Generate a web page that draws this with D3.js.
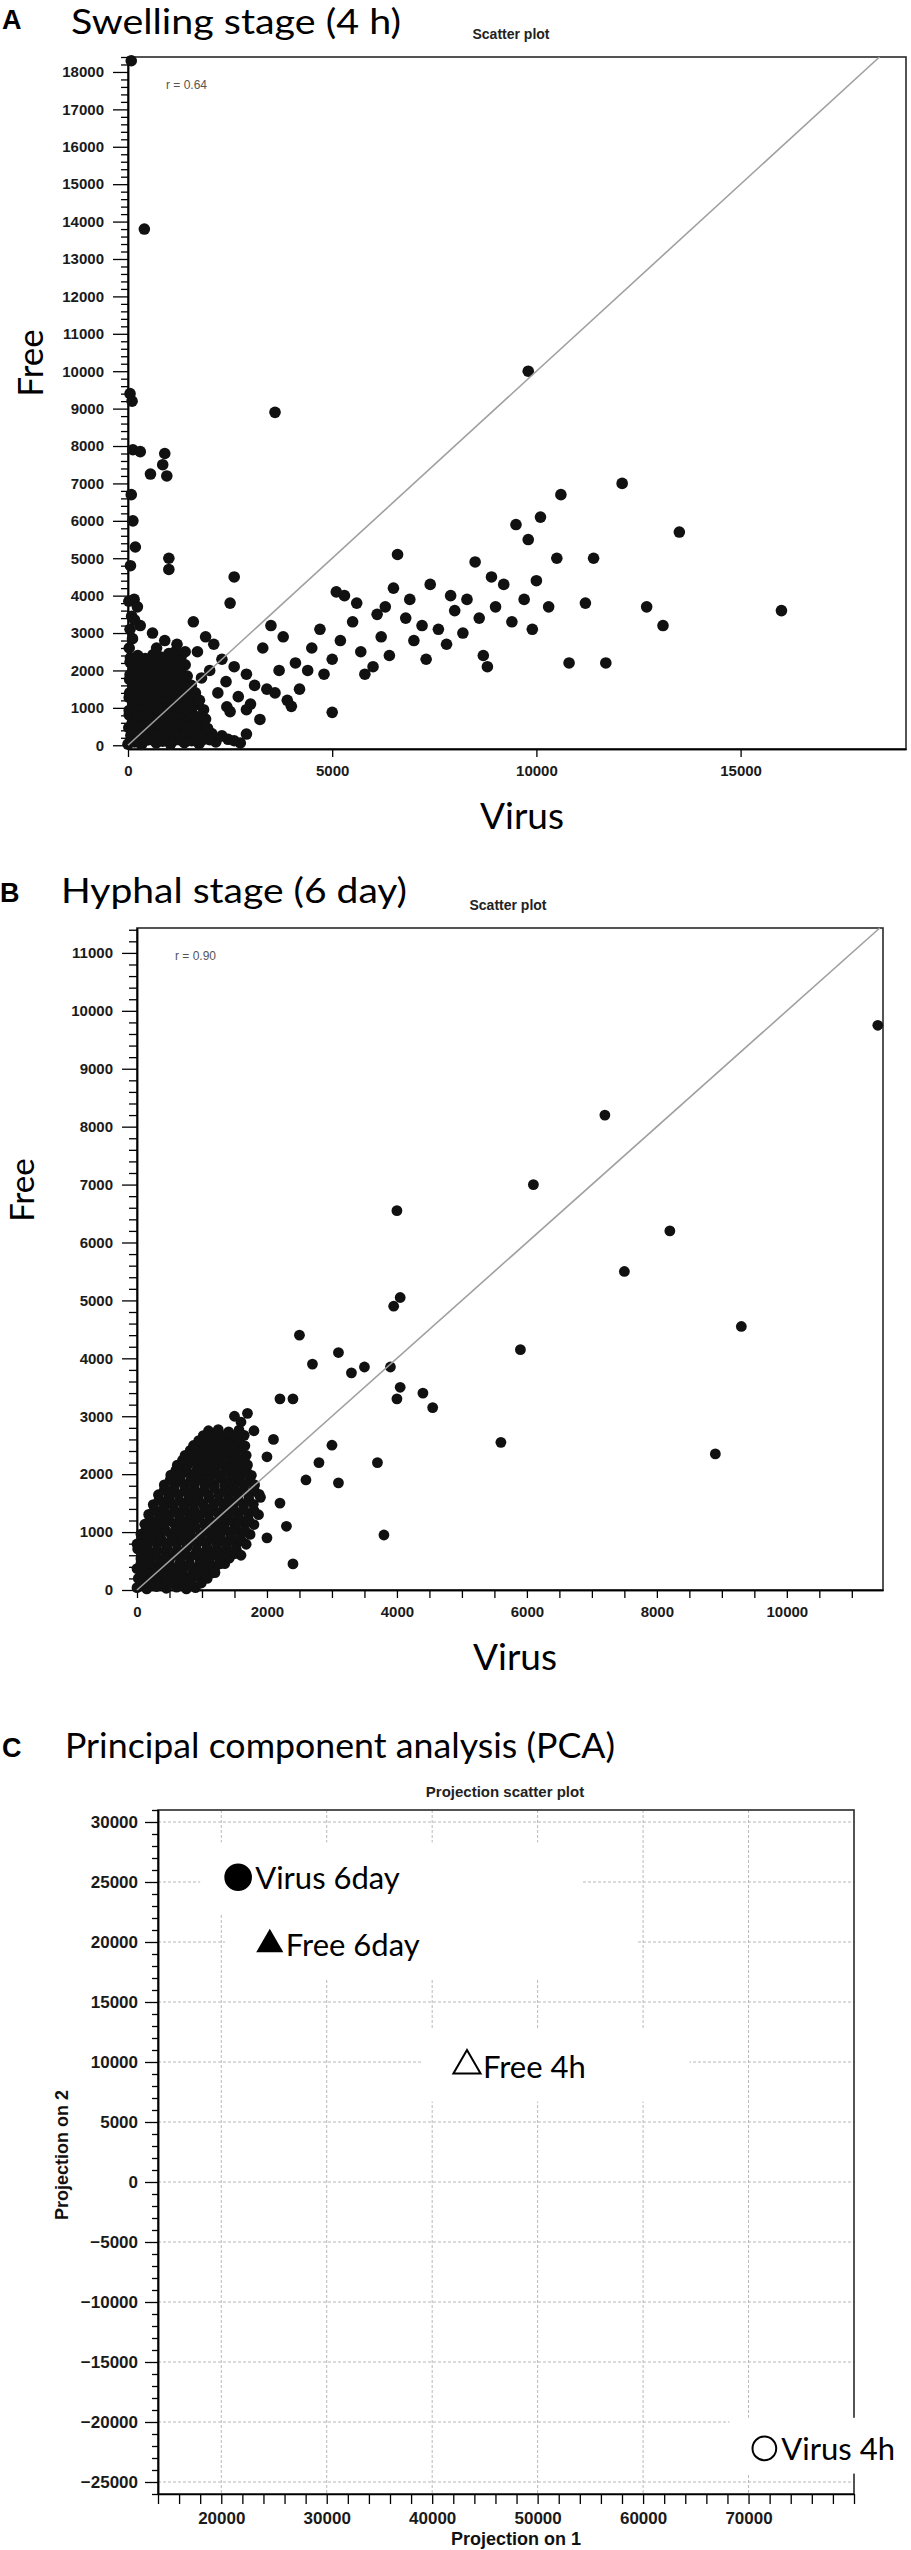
<!DOCTYPE html>
<html>
<head>
<meta charset="utf-8">
<script src="https://cdn.jsdelivr.net/npm/d3@7/dist/d3.min.js"></script>
<style>
  body { margin: 0; background: #fff; }
  svg text { font-family: "Liberation Sans", Arial, sans-serif; }
  svg text.cal { font-family: Lato, "Open Sans", sans-serif; }
</style>
</head>
<body>
<svg id="fig" width="911" height="2550"></svg>
<script>
// ---- panel A: swelling stage (4 h), [virus, free]
var swellingPoints = [
  [0,30],[160,90],[330,20],[480,140],[690,60],[850,110],[1040,30],[1190,150],[1380,70],[1560,120],[1740,40],[1900,180],[2150,90],[2450,160],[2750,60],
  [80,145],[250,150],[410,140],[590,150],[770,145],[950,140],[1120,150],[1290,145],[1470,150],[1650,140],[1830,150],
  [70,260],[250,330],[420,240],[600,310],[770,220],[960,290],[1130,370],[1300,250],[1470,330],[1650,280],[1820,390],[2050,310],
  [160,365],[330,370],[510,360],[690,365],[860,370],[1040,360],[1220,365],[1390,370],[1560,360],[1740,365],
  [20,470],[190,540],[370,450],[540,510],[720,580],[880,460],[1070,530],[1240,600],[1410,480],[1580,560],[1780,520],
  [100,585],[280,590],[460,580],[630,585],[800,590],[970,580],[1150,585],[1320,590],[1500,580],[1680,585],
  [110,700],[280,760],[460,690],[630,740],[810,820],[990,710],[1160,780],[1330,720],[1510,800],[1690,740],
  [30,815],[200,820],[370,810],[550,815],[720,820],[900,810],[1070,815],[1250,820],[1420,810],[1600,815],
  [30,930],[200,980],[390,900],[560,1000],[740,940],[910,1050],[1090,960],[1270,1020],[1440,950],[1610,1060],
  [110,1045],[290,1050],[470,1040],[650,1045],[820,1050],[1000,1040],[1180,1045],[1350,1050],[1530,1040],
  [120,1160],[300,1230],[470,1140],[650,1200],[830,1270],[1000,1180],[1180,1250],[1360,1170],[1530,1280],
  [30,1280],[210,1285],[390,1275],[560,1280],[740,1285],[920,1275],[1090,1280],[1270,1285],[1440,1275],
  [40,1400],[210,1450],[380,1380],[560,1470],[740,1410],[910,1500],[1090,1420],[1270,1490],[1440,1560],
  [130,1520],[300,1525],[470,1515],[650,1520],[830,1525],[1000,1515],[1180,1520],[1350,1525],
  [130,1640],[300,1700],[480,1620],[650,1710],[820,1660],[1000,1740],[1180,1670],[1350,1780],
  [40,1760],[210,1765],[390,1755],[570,1760],[740,1765],[920,1755],[1090,1760],[1260,1765],
  [50,1880],[220,1930],[400,1860],[570,1950],[750,1890],[920,1980],[1100,1910],[1300,2050],
  [130,1995],[310,2000],[480,1990],[660,1995],[840,2000],[1010,1990],[1190,1995],
  [140,2110],[320,2170],[490,2090],[670,2180],[850,2130],[1020,2220],[1200,2160],
  [50,2225],[230,2230],[410,2220],[580,2225],[760,2230],[940,2220],[1110,2225],
  [60,2340],[240,2400],[420,2320],[610,2420],[800,2360],[1000,2450],[1300,2370],
  [2000,150],[2300,250],[2600,120],[2900,300],[1950,450],[1900,700],[1850,950],[1750,1200],
  [1650,1400],[1550,1600],[1450,1850],[1400,2150],[1150,2500],
  [80,18300],[400,13800],[50,9400],[100,9200],[3600,8900],[9800,10000],[120,7900],[300,7850],
  [900,7800],[850,7500],[550,7250],[950,7200],[80,6700],[120,6000],[180,5300],[60,4800],
  [1000,5000],[1000,4700],[150,3900],[230,3700],[90,3450],[300,3200],[600,3000],[900,2800],
  [1200,2700],[1400,2500],[700,2600],[30,2600],[110,2850],[50,3100],[160,3350],[20,3850],
  [1600,3300],[1900,2900],[2100,2700],[1700,2500],[2300,2300],[2000,2000],[2600,2100],[1800,1800],
  [2400,1700],[2900,1900],[2200,1400],[2700,1300],[3100,1600],[3400,1500],[3000,1100],[3600,1400],
  [3900,1200],[4200,1500],[2500,900],[2900,950],[3230,690],[4000,1040],[5000,880],[2420,1030],
  [2600,4500],[2500,3800],[3300,2600],[3800,2900],[4100,2200],[4500,2600],[4400,2000],[4800,1900],
  [5000,2300],[5200,2800],[5100,4100],[5300,4000],[5500,3300],[5700,2500],[5800,1900],[6000,2100],
  [6200,2900],[6400,2400],[6600,5100],[6500,4200],[6300,3700],[6800,3400],[6900,3900],[7000,2800],
  [7200,3200],[7400,4300],[7600,3100],[7800,2700],[7900,4000],[8000,3600],[8200,3000],[8300,3900],
  [8500,4900],[8600,3400],[8700,2400],[8800,2100],[9000,3700],[9200,4300],[9400,3300],[9500,5900],
  [9700,3900],[9800,5500],[10000,4400],[10100,6100],[10300,3700],[10500,5000],[10600,6700],[10800,2200],
  [11200,3800],[11400,5000],[11700,2200],[12100,7000],[12700,3700],[13100,3200],[13500,5700],[16000,3600],
  [9900,3100],[8900,4500],[7300,2300],[6100,3500],[5600,3800],[4700,3100],[3700,2000],[3500,3200]
];
var swellingR = "r = 0.64";

// ---- panel B: hyphal stage (6 day), [virus, free]
var hyphalPoints = [
  [0,40],[150,20],[300,60],[450,30],[610,50],[760,20],[900,40],
  [70,120],[220,125],[370,115],[530,120],[680,125],[830,115],[990,120],
  [20,200],[170,230],[320,190],[470,220],[620,180],[780,210],[930,240],[1080,200],
  [90,290],[240,295],[400,285],[550,290],[700,295],[860,285],[1010,290],[1160,295],
  [0,370],[130,390],[280,350],[430,380],[580,360],[740,400],[890,350],[1040,380],[1190,360],
  [60,455],[200,460],[350,450],[500,455],[660,460],[810,450],[970,455],[1120,460],[1270,450],[1350,455],
  [60,540],[210,560],[360,520],[510,550],[670,530],[820,570],[970,520],[1120,560],[1270,530],[1420,550],
  [130,625],[280,630],[440,620],[590,625],[740,630],[900,620],[1050,625],[1200,630],[1350,620],[1500,625],
  [10,710],[160,730],[310,690],[460,720],[620,700],[770,740],[920,690],[1080,720],[1230,700],[1380,730],[1530,690],
  [0,795],[150,800],[310,790],[460,795],[610,800],[770,790],[920,795],[1070,800],[1230,790],[1380,795],[1530,800],[1680,790],
  [80,880],[230,900],[380,860],[540,890],[690,870],[840,910],[1000,860],[1150,900],[1300,870],[1450,890],[1600,860],
  [60,965],[210,970],[360,960],[520,965],[670,970],[820,960],[980,965],[1130,970],[1280,960],[1440,965],[1590,970],[1740,960],
  [140,1050],[290,1070],[440,1030],[600,1060],[750,1040],[900,1080],[1060,1030],[1210,1070],[1360,1040],[1510,1060],[1660,1030],
  [120,1135],[270,1140],[420,1130],[580,1135],[730,1140],[880,1130],[1040,1135],[1190,1140],[1340,1130],[1500,1135],[1650,1140],[1800,1130],
  [200,1220],[350,1240],[500,1200],[660,1230],[810,1210],[960,1250],[1120,1200],[1270,1240],[1420,1210],[1570,1230],[1720,1200],
  [180,1305],[340,1310],[490,1300],[640,1305],[800,1310],[950,1300],[1100,1305],[1260,1310],[1410,1300],[1560,1305],[1720,1310],[1870,1300],
  [270,1390],[420,1410],[580,1370],[730,1400],[880,1380],[1040,1420],[1190,1370],[1340,1410],[1490,1380],[1640,1400],[1800,1370],
  [250,1475],[410,1480],[560,1470],[720,1475],[870,1480],[1020,1470],[1180,1475],[1330,1480],[1480,1470],[1640,1475],[1790,1480],
  [340,1560],[490,1580],[650,1540],[800,1570],[950,1550],[1110,1590],[1260,1540],[1410,1580],[1560,1550],[1720,1570],
  [330,1645],[490,1650],[640,1640],[800,1645],[950,1650],[1100,1640],[1260,1645],[1410,1650],[1560,1640],[1720,1645],[1880,1650],
  [420,1730],[570,1750],[730,1710],[880,1740],[1030,1720],[1190,1760],[1340,1710],[1490,1750],[1640,1720],[1800,1740],
  [420,1815],[580,1820],[730,1810],[880,1815],[1040,1820],[1190,1810],[1350,1815],[1500,1820],[1650,1810],[1810,1815],
  [510,1900],[660,1920],[820,1880],[970,1910],[1120,1890],[1280,1930],[1430,1880],[1580,1920],[1740,1890],
  [520,1985],[680,1990],[830,1980],[990,1985],[1140,1990],[1300,1980],[1450,1985],[1610,1990],[1760,1980],
  [600,2070],[750,2090],[910,2050],[1060,2080],[1210,2060],[1370,2100],[1520,2050],[1680,2090],
  [620,2155],[780,2160],[930,2150],[1090,2155],[1240,2160],[1400,2150],[1550,2155],[1700,2160],
  [700,2240],[850,2260],[1010,2220],[1160,2250],[1310,2230],[1470,2270],[1620,2220],
  [740,2325],[900,2330],[1050,2320],[1210,2325],[1360,2330],[1520,2320],[1680,2325],
  [820,2410],[980,2430],[1130,2390],[1290,2420],[1440,2400],[1600,2440],
  [870,2495],[1030,2500],[1180,2490],[1340,2495],[1500,2500],[1660,2490],
  [950,2580],[1110,2600],[1260,2560],[1420,2590],[1580,2570],
  [1020,2665],[1180,2670],[1340,2660],[1490,2665],[1650,2670],
  [1100,2750],[1250,2770],[1410,2730],[1570,2760],
  [1500,3000],[1600,2900],[1700,3050],[1400,2700],[1800,2750],[2000,2300],[2100,2600],[2200,3300],
  [2400,3300],[2500,4400],[2700,3900],[1900,1600],[2200,1500],[2300,1100],[2400,450],[1700,1200],
  [2000,900],[1600,600],[1200,300],[2600,1900],[2800,2200],[3000,2500],[3100,4100],[3100,1850],
  [3300,3750],[3500,3850],[3700,2200],[3800,950],[3900,3850],[3950,4900],[4000,6550],[4050,5050],
  [4000,3300],[4050,3500],[4400,3400],[4550,3150],[5600,2550],[5900,4150],[6100,7000],[7200,8200],
  [7500,5500],[8200,6200],[8900,2350],[9300,4550],[11400,9750]
];
var hyphalR = "r = 0.90";

// ---- panel C: PCA projections
var pcaSamples = ["Virus 6day", "Free 6day", "Free 4h", "Virus 4h"];
var pcaProjection1 = [21600, 24600, 43300, 71500];
var pcaProjection2 = [25400, 19800, 9700, -22200];
var pcaShapes = ["circle", "triangle", "triangle", "circle"];
var pcaFilled = [true, true, false, false];
// white label boxes pasted over the plot: [x0, x1, y0, y1] in projection units
var pcaLabelBoxes = [
  [18000, 54100, 28300, 22250],
  [20350, 59500, 22250, 16850],
  [39000, 64400, 12800, 6700],
  [68200, 90000, -19650, -24300]
];

var svg = d3.select("#fig");

function bigText(x, y, str, size, width) {
  var t = svg.append("text").attr("class", "cal")
    .attr("x", x).attr("y", y)
    .attr("font-size", size).attr("fill", "#000")
    .text(str);
  if (width) t.attr("textLength", width).attr("lengthAdjust", "spacingAndGlyphs");
  return t;
}

function panelLetter(x, y, str) {
  svg.append("text").attr("x", x).attr("y", y)
    .attr("font-size", 27).attr("font-weight", "bold").attr("fill", "#000")
    .text(str);
}

function styleAxis(g, size) {
  g.select(".domain").attr("stroke", "#000").attr("stroke-width", 1.5);
  g.selectAll(".tick line").attr("stroke", "#000").attr("stroke-width", 1.3);
  g.selectAll(".tick text")
    .attr("font-size", size).attr("font-weight", "bold").attr("fill", "#1a1a1a");
}

function minorValues(lo, hi, step, major) {
  return d3.range(lo, hi + 1, step).filter(function (v) { return v % major !== 0; });
}

function scatterPanel(cfg) {
  var x = d3.scaleLinear().domain(cfg.xDomain).range([cfg.left, cfg.right]);
  var y = d3.scaleLinear().domain(cfg.yDomain).range([cfg.bottom, cfg.top]);
  var g = svg.append("g");

  // frame
  g.append("rect")
    .attr("x", cfg.left).attr("y", cfg.top)
    .attr("width", cfg.right - cfg.left).attr("height", cfg.bottom - cfg.top)
    .attr("fill", "none").attr("stroke", "#2a2a2a").attr("stroke-width", 1.6);

  // minor ticks
  var yMinor = g.append("g").attr("transform", "translate(" + cfg.left + ",0)")
    .call(d3.axisLeft(y).tickValues(minorValues(0, cfg.yDomain[1], cfg.yMinor, cfg.yMajor))
      .tickSize(cfg.minorLen).tickFormat("").tickSizeOuter(0));
  styleAxis(yMinor, 14);
  var xMinor = g.append("g").attr("transform", "translate(0," + cfg.bottom + ")")
    .call(d3.axisBottom(x).tickValues(minorValues(0, cfg.xDomain[1], cfg.xMinor, cfg.xMajor))
      .tickSize(8).tickFormat("").tickSizeOuter(0));
  styleAxis(xMinor, 14);

  // major ticks and labels
  var yAx = g.append("g").attr("transform", "translate(" + cfg.left + ",0)")
    .call(d3.axisLeft(y).tickValues(d3.range(0, cfg.yDomain[1] + 1, cfg.yMajor))
      .tickSize(15).tickPadding(9).tickFormat(d3.format("d")).tickSizeOuter(0));
  styleAxis(yAx, cfg.tickFont);
  var xAx = g.append("g").attr("transform", "translate(0," + cfg.bottom + ")")
    .call(d3.axisBottom(x).tickValues(d3.range(0, cfg.xDomain[1] + 1, cfg.xLabelStep))
      .tickSize(8).tickPadding(8).tickFormat(d3.format("d")).tickSizeOuter(0));
  styleAxis(xAx, cfg.tickFont);

  // points
  g.append("g").selectAll("circle")
    .data(cfg.points).enter().append("circle")
    .attr("cx", function (d) { return x(d[0]); })
    .attr("cy", function (d) { return y(d[1]); })
    .attr("r", cfg.r)
    .attr("fill", "#111");

  // identity line
  var m = Math.min(cfg.xDomain[1], cfg.yDomain[1]);
  g.append("line")
    .attr("x1", x(0)).attr("y1", y(0)).attr("x2", x(m)).attr("y2", y(m))
    .attr("stroke", "#a0a0a0").attr("stroke-width", 1.6);

  // correlation note
  g.append("text").attr("x", cfg.left + 38).attr("y", cfg.top + 32)
    .attr("font-size", 12).attr("fill", "#555").text(cfg.rText);

  // small plot title
  g.append("text").attr("x", cfg.titleX).attr("y", cfg.top - 18)
    .attr("text-anchor", "middle").attr("font-size", 14).attr("font-weight", "bold")
    .attr("fill", "#222").text("Scatter plot");

  // axis titles
  bigText(cfg.xTitleX, cfg.bottom + 80, "Virus", 37).attr("text-anchor", "middle");
  bigText(0, 0, "Free", cfg.yTitleSize).attr("text-anchor", "middle")
    .attr("transform", "translate(" + cfg.yTitleX + "," + cfg.yTitleY + ") rotate(-90)");
}

// ---- panel A
panelLetter(2, 29, "A");
bigText(71, 34, "Swelling stage (4 h)", 34, 330);
scatterPanel({
  points: swellingPoints, rText: swellingR,
  left: 128, right: 906, top: 57, bottom: 749,
  xDomain: [0, 19050], yDomain: [-100, 18400],
  yMajor: 1000, yMinor: 200, xMajor: 1000, xMinor: 1000, xLabelStep: 5000,
  minorLen: 7, tickFont: 15, r: 5.8,
  titleX: 511, xTitleX: 522, yTitleX: 43, yTitleY: 363, yTitleSize: 35
});

// ---- panel B
panelLetter(0, 902, "B");
bigText(61, 903, "Hyphal stage (6 day)", 34, 346);
scatterPanel({
  points: hyphalPoints, rText: hyphalR,
  left: 137, right: 883, top: 928, bottom: 1590,
  xDomain: [0, 11480], yDomain: [0, 11430],
  yMajor: 1000, yMinor: 200, xMajor: 2000, xMinor: 500, xLabelStep: 2000,
  minorLen: 8, tickFont: 15, r: 5.4,
  titleX: 508, xTitleX: 515, yTitleX: 34, yTitleY: 1190, yTitleSize: 33
});

// ---- panel C
panelLetter(2, 1757, "C");
bigText(65, 1758, "Principal component analysis (PCA)", 34, 550);

(function () {
  var left = 158, right = 854, top = 1810, bottom = 2494;
  var x = d3.scaleLinear().domain([14000, 80000]).range([left, right]);
  var y = d3.scaleLinear().domain([-26000, 31000]).range([bottom, top]);
  var g = svg.append("g");
  var xMajor = d3.range(20000, 80000, 10000);
  var yMajor = d3.range(-25000, 31000, 5000);

  // dashed grid
  g.append("g").selectAll("line").data(xMajor).enter().append("line")
    .attr("x1", x).attr("x2", x).attr("y1", top).attr("y2", bottom);
  g.append("g").selectAll("line").data(yMajor).enter().append("line")
    .attr("y1", y).attr("y2", y).attr("x1", left).attr("x2", right);
  g.selectAll("line").attr("stroke", "#b8b8b8").attr("stroke-width", 1)
    .attr("stroke-dasharray", "3,2");

  g.append("rect")
    .attr("x", left).attr("y", top).attr("width", right - left).attr("height", bottom - top)
    .attr("fill", "none").attr("stroke", "#2a2a2a").attr("stroke-width", 1.6);

  var yMinor = g.append("g").attr("transform", "translate(" + left + ",0)")
    .call(d3.axisLeft(y).tickValues(d3.range(-26000, 31001, 1000).filter(function (v) { return v % 5000 !== 0; }))
      .tickSize(6).tickFormat("").tickSizeOuter(0));
  styleAxis(yMinor, 14);
  var yAx = g.append("g").attr("transform", "translate(" + left + ",0)")
    .call(d3.axisLeft(y).tickValues(yMajor).tickSize(13).tickPadding(7)
      .tickFormat(d3.format("d")).tickSizeOuter(0));
  styleAxis(yAx, 17);
  var xAx = g.append("g").attr("transform", "translate(0," + bottom + ")")
    .call(d3.axisBottom(x).tickValues(d3.range(14000, 80001, 2000)).tickSize(10).tickPadding(8)
      .tickFormat(function (v) { return v % 10000 === 0 && v < 80000 ? v : ""; }).tickSizeOuter(0));
  styleAxis(xAx, 17);

  // label boxes
  g.append("g").selectAll("rect").data(pcaLabelBoxes).enter().append("rect")
    .attr("x", function (d) { return x(d[0]); })
    .attr("y", function (d) { return y(d[2]); })
    .attr("width", function (d) { return x(d[1]) - x(d[0]); })
    .attr("height", function (d) { return y(d[3]) - y(d[2]); })
    .attr("fill", "#fff");

  // sample markers
  var shapes = { circle: d3.symbolCircle, triangle: d3.symbolTriangle };
  var samples = pcaSamples.map(function (name, i) {
    return { name: name, p1: pcaProjection1[i], p2: pcaProjection2[i], shape: pcaShapes[i], filled: pcaFilled[i] };
  });
  var mk = g.append("g").selectAll("g").data(samples).enter().append("g")
    .attr("transform", function (d) { return "translate(" + x(d.p1) + "," + y(d.p2) + ")"; });
  mk.append("path")
    .attr("d", function (d) {
      var size = d.shape === "circle" ? (d.filled ? 600 : 440) : 320;
      return d3.symbol().type(shapes[d.shape]).size(size)();
    })
    .attr("fill", function (d) { return d.filled ? "#000" : "#fff"; })
    .attr("stroke", "#000").attr("stroke-width", function (d) { return d.filled ? 0 : 2; });
  mk.append("text").attr("class", "cal")
    .attr("x", function (d) { return d.shape === "circle" ? 17 : 16; })
    .attr("y", 12)
    .attr("font-size", 31).attr("fill", "#000")
    .text(function (d) { return d.name; });

  g.append("text").attr("x", 505).attr("y", top - 13).attr("text-anchor", "middle")
    .attr("font-size", 15).attr("font-weight", "bold").attr("fill", "#222")
    .text("Projection scatter plot");
  g.append("text").attr("x", 516).attr("y", 2545).attr("text-anchor", "middle")
    .attr("font-size", 18).attr("font-weight", "bold").attr("fill", "#111")
    .text("Projection on 1");
  g.append("text").attr("text-anchor", "middle")
    .attr("transform", "translate(68,2155) rotate(-90)")
    .attr("font-size", 18).attr("font-weight", "bold").attr("fill", "#111")
    .text("Projection on 2");
})();
</script>
</body>
</html>
